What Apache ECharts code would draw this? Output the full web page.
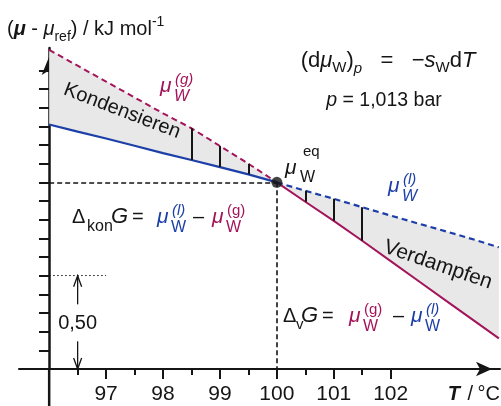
<!DOCTYPE html>
<html><head><meta charset="utf-8">
<script src="https://cdn.jsdelivr.net/npm/echarts@6/dist/echarts.min.js"></script>
<style>html,body{margin:0;padding:0;background:#fff}#c{width:501px;height:406px}</style>
</head><body><div id="c"></div>
<script>
// ---- data ----
const T_left   = [96, 96.5, 97, 97.5, 98, 98.5, 99, 99.5, 100];
const gas_left = [1.71, 1.625, 1.54, 1.455, 1.37, 1.29, 1.195, 1.10, 1.0];
const liq_left = [1.31, 1.272, 1.235, 1.196, 1.157, 1.12, 1.082, 1.043, 1.0];
const T_right   = [100, 100.5, 101, 101.5, 102, 102.5, 103, 103.5, 103.9];
const gas_right = [1.0, 0.896, 0.794, 0.687, 0.578, 0.469, 0.36, 0.251, 0.164];
const liq_right = [1.0, 0.955, 0.912, 0.867, 0.822, 0.778, 0.735, 0.69, 0.652];
const hatchT = [98.5, 99, 99.5, 100.5, 101, 101.5];
const xMajorTicks = [97, 98, 99, 100, 101, 102];
const xMinorTicks = [96.5, 97.5, 98.5, 99.5, 100.5, 101.5];
const yTicks = [0.1, 0.2, 0.3, 0.4, 0.5, 0.6, 0.7, 0.8, 0.9, 1.0, 1.1, 1.2, 1.3, 1.4, 1.5, 1.6];
const eqPoint = [100, 1.0];
const yAxisT = [96];
const deltaT = [96.5];
const deltaRange = [0, 0.5];
const deltaLineT = [96, 97];

const RED = '#a3145a', BLUE = '#1c3fa8', INK = '#151515', GRAY = '#e8e8e8';
const F = '"Liberation Sans", Arial, Helvetica, sans-serif';

const zip = (a, b) => a.map((v, i) => [v, b[i]]);
function valAt(T) {
  let i = T_left.indexOf(T);
  if (i >= 0) return [liq_left[i], gas_left[i]];
  i = T_right.indexOf(T);
  return [liq_right[i], gas_right[i]];
}
const regions = [
  {T: T_left, upper: gas_left, lower: liq_left},
  {T: T_right, upper: liq_right, lower: gas_right}
];

const chart = echarts.init(document.getElementById('c'), null, {renderer: 'canvas'});
const XMIN = 95.47, XMAX = 103.92, YMIN = 0, YMAX = 1.72;

const baseLine = {type: 'line', symbol: 'none', silent: true, animation: false, z: 3};
const option = {
  animation: false,
  backgroundColor: '#fff',
  grid: {left: 19, right: 1, top: 48, bottom: 37, containLabel: false, outerBoundsMode: 'none'},
  xAxis: [{
    type: 'value', min: XMIN, max: XMAX,
    axisLine: {onZero: false, lineStyle: {color: INK, width: 2}, symbol: ['none', 'arrow'], symbolSize: [11, 16], symbolOffset: [0, -8]},
    axisTick: {show: true, customValues: xMajorTicks, length: 10, lineStyle: {color: INK, width: 2}},
    axisLabel: {customValues: xMajorTicks, margin: 15, fontSize: 21, fontFamily: F, color: INK},
    splitLine: {show: false}
  }, {
    type: 'value', min: XMIN, max: XMAX, position: 'bottom',
    axisLine: {show: false, onZero: false},
    axisTick: {show: true, customValues: xMinorTicks, length: 6, lineStyle: {color: INK, width: 2}},
    axisLabel: {show: false},
    splitLine: {show: false}
  }],
  yAxis: {
    type: 'value', min: YMIN, max: YMAX, position: 'left', offset: -30,
    axisLine: {onZero: false, lineStyle: {color: INK, width: 2.5}, symbol: ['none', 'arrow'], symbolSize: [11, 18], symbolOffset: [0, -9]},
    axisTick: {show: true, customValues: yTicks, length: 10, lineStyle: {color: INK, width: 2}},
    axisLabel: {show: false},
    splitLine: {show: false}
  },
  series: [
    {
      type: 'custom', silent: true, z: 1,
      data: regions.map((r, i) => [i]),
      renderItem: function (params, api) {
        const r = regions[params.dataIndex];
        const pts = [];
        r.T.forEach((t, k) => pts.push(api.coord([t, r.upper[k]])));
        for (let k = r.T.length - 1; k >= 0; k--) pts.push(api.coord([r.T[k], r.lower[k]]));
        return {type: 'polygon', shape: {points: pts}, style: {fill: GRAY, stroke: null}};
      }
    },
    Object.assign({}, baseLine, {name: 'gas-l', data: zip(T_left, gas_left), lineStyle: {color: RED, width: 2, type: [6, 4]}}),
    Object.assign({}, baseLine, {name: 'liq-l', data: zip(T_left, liq_left), lineStyle: {color: BLUE, width: 2.2}}),
    Object.assign({}, baseLine, {name: 'gas-r', data: zip(T_right, gas_right), lineStyle: {color: RED, width: 2}}),
    Object.assign({}, baseLine, {name: 'liq-r', data: zip(T_right, liq_right), lineStyle: {color: BLUE, width: 2.2, type: [6, 4]}}),
    {
      type: 'scatter', silent: true, z: 5,
      data: [eqPoint], symbolSize: 11, itemStyle: {color: INK},
      markLine: {
        silent: true, symbol: 'none', animation: false, label: {show: false},
        lineStyle: {color: INK, width: 1.6, type: [5, 3]},
        data: [
          [{coord: [yAxisT[0], eqPoint[1]]}, {coord: eqPoint}],
          [{coord: eqPoint}, {coord: [eqPoint[0], 0]}],
          [{coord: [deltaLineT[0], deltaRange[1]], lineStyle: {type: [1.5, 2.5], width: 1.2}}, {coord: [deltaLineT[1], deltaRange[1]]}]
        ]
      }
    },
    {
      type: 'line', symbol: 'none', silent: true, data: [], z: 2,
      markLine: {
        silent: true, symbol: 'none', animation: false, label: {show: false},
        lineStyle: {color: INK, width: 2, type: 'solid'},
        data: hatchT.map(t => { const v = valAt(t); return [{coord: [t, v[0]]}, {coord: [t, v[1]]}]; })
      }
    }
  ]
};
chart.setOption(option);

// ---- annotations (text as real text) ----
function txt(x, base, str, size, o) {
  o = o || {};
  return {
    type: 'text', z: 100, silent: true,
    style: {
      x: x, y: base - 0.33 * size, text: str,
      font: (o.italic ? 'italic ' : '') + (o.bold ? 'bold ' : '') + size + 'px ' + F,
      fill: o.color || INK,
      align: o.align || 'left', textAlign: o.align || 'left',
      verticalAlign: 'middle', textVerticalAlign: 'middle'
    }
  };
}
function rich(x, base, str, size, richDef, o) {
  o = o || {};
  const el = txt(x, base, str, size, o);
  el.style.rich = richDef;
  return el;
}
const R = {
  n: {fontSize: 20, fontFamily: F, color: INK},
  bi: {fontSize: 20, fontFamily: F, fontStyle: 'italic', fontWeight: 'bold', color: INK},
  i: {fontSize: 20, fontFamily: F, fontStyle: 'italic', color: INK},
  sub: {fontSize: 14, fontFamily: F, color: INK, padding: [16, 0, 0, 0]},
  sup: {fontSize: 14, fontFamily: F, color: INK, padding: [0, 0, 14, 0]},
  n2: {fontSize: 22, fontFamily: F, color: INK},
  i2: {fontSize: 22, fontFamily: F, fontStyle: 'italic', color: INK},
  sub2: {fontSize: 15, fontFamily: F, color: INK, padding: [14, 0, 0, 0]},
  subi2: {fontSize: 15, fontFamily: F, fontStyle: 'italic', color: INK, padding: [17, 0, 0, 0]},
  pn: {fontSize: 19.5, fontFamily: F, color: INK},
  pi: {fontSize: 19.5, fontFamily: F, fontStyle: 'italic', color: INK}
};
function rotText(cx, cy, str, size, deg) {
  return {
    type: 'text', z: 100, silent: true, x: cx, y: cy, rotation: -deg * Math.PI / 180,
    style: {x: 0, y: 0, text: str, font: size + 'px ' + F, fill: INK,
      align: 'center', textAlign: 'center', verticalAlign: 'middle', textVerticalAlign: 'middle'}
  };
}
function muLabel(x, base, sup, color, opts) {
  opts = opts || {};
  const it = opts.italicAll;
  return [
    txt(x, base, 'μ', 21, {italic: true, color: color}),
    txt(x + 14, base + 9, 'W', 16, {italic: it, color: color}),
    txt(x + 15, base - 8, sup, 15, {italic: opts.supItalic, color: color})
  ];
}

const px = p => chart.convertToPixel({gridIndex: 0}, p);
const xD = px([deltaT[0], 0])[0];
const y0 = px([deltaT[0], deltaRange[0]])[1];
const y1 = px([deltaT[0], deltaRange[1]])[1];
const yMid = (y0 + y1) / 2 + 1;
const yAxisBase = px([yAxisT[0], 0]);

const arrowStyle = {stroke: INK, lineWidth: 1.3, fill: null};
const graphics = [
  // y-axis continues below the x-axis
  {type: 'line', z: 50, silent: true, shape: {x1: yAxisBase[0], y1: yAxisBase[1], x2: yAxisBase[0], y2: 406}, style: {stroke: INK, lineWidth: 2.5}},
  rich(7, 36, '{n|(}{bi|μ}{n| - }{i|μ}{sub|ref}{n|) / kJ mol}{sup|-1}', 20, R),
  rich(388, 68, '{n2|(d}{i2|μ}{sub2|W}{n2|)}{subi2|p}{n2|   =   −}{i2|s}{sub2|W}{n2|d}{i2|T}', 22, R, {align: 'center'}),
  rich(384, 107, '{pi|p}{pn| = 1,013 bar}', 19.5, R, {align: 'center'}),
  rotText(122, 111, 'Kondensieren', 20, 21),
  rotText(438, 265, 'Verdampfen', 21, 19),
  txt(500, 401, '°C', 20, {align: 'right'}),
  txt(473, 401, '/', 20, {align: 'right'}),
  txt(460, 401, 'T', 20, {align: 'right', italic: true, bold: true}),
  txt(285, 175, 'μ', 21, {italic: true}),
  txt(300, 183, 'W', 16),
  txt(303, 157, 'eq', 15),
  txt(72, 224, 'Δ', 20),
  txt(87, 232, 'kon', 16),
  txt(111, 224, 'G', 22, {italic: true}),
  txt(132, 224, '=', 20),
  txt(193, 224, '–', 20),
  txt(283, 323, 'Δ', 20),
  txt(296, 330, 'v', 15),
  txt(301, 323, 'G', 22, {italic: true}),
  txt(322, 323, '=', 20),
  txt(393, 323, '–', 20),
  txt(xD, yMid + 7, '0,50', 20, {align: 'center'}),
  {type: 'polyline', z: 100, silent: true, shape: {points: [[xD, y1], [xD, yMid - 19]]}, style: arrowStyle},
  {type: 'polyline', z: 100, silent: true, shape: {points: [[xD - 4, y1 + 11], [xD, y1], [xD + 4, y1 + 11]]}, style: arrowStyle},
  {type: 'polyline', z: 100, silent: true, shape: {points: [[xD, yMid + 18], [xD, y0]]}, style: arrowStyle},
  {type: 'polyline', z: 100, silent: true, shape: {points: [[xD - 4, y0 - 11], [xD, y0], [xD + 4, y0 - 11]]}, style: arrowStyle}
];
graphics.push(...muLabel(160, 93, '(g)', RED, {italicAll: true, supItalic: true}));
graphics.push(...muLabel(388, 193, '(l)', BLUE, {italicAll: true, supItalic: true}));
graphics.push(...muLabel(157, 224, '(l)', BLUE, {supItalic: true}));
graphics.push(...muLabel(212, 224, '(g)', RED));
graphics.push(...muLabel(349, 323, '(g)', RED));
graphics.push(...muLabel(411, 323, '(l)', BLUE, {supItalic: true}));

chart.setOption({graphic: graphics});
</script>
</body></html>
